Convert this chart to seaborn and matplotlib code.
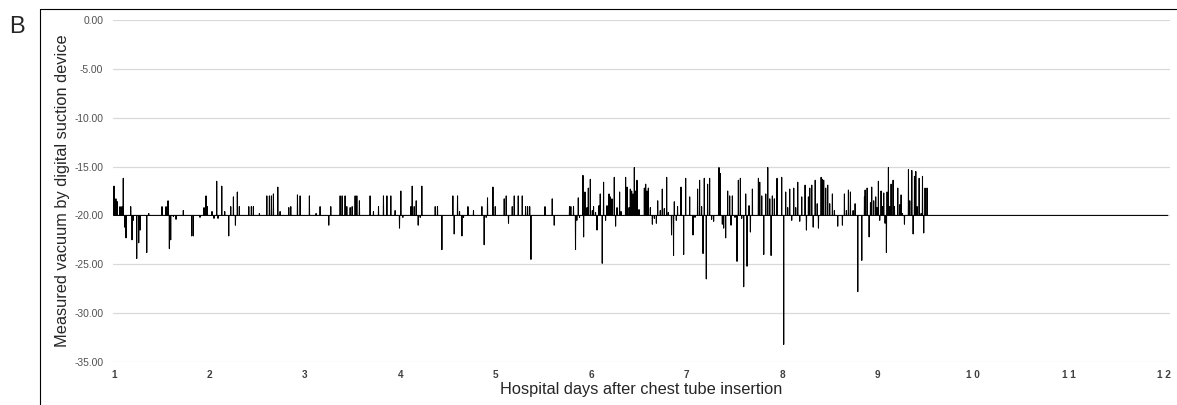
import matplotlib
matplotlib.use("Agg")
import matplotlib.pyplot as plt
import seaborn as sns
import pandas as pd
from matplotlib.lines import Line2D

# set pressure of the suction device
baseline = -20.0

# readings that differ from the set pressure (day, measured vacuum)
reading_day = [
    1.000, 1.020, 1.035, 1.063, 1.084, 1.097, 1.112, 1.126, 1.175, 1.189,
    1.202, 1.238, 1.259, 1.273, 1.343, 1.364, 1.503, 1.545, 1.566, 1.580,
    1.594, 1.622, 1.650, 1.726, 1.814, 1.831, 1.901, 1.943, 1.964, 1.978,
    2.027, 2.048, 2.076, 2.090, 2.129, 2.160, 2.202, 2.223, 2.251, 2.272,
    2.292, 2.313, 2.412, 2.439, 2.460, 2.523, 2.601, 2.628, 2.649, 2.670,
    2.716, 2.740, 2.831, 2.852, 2.922, 2.950, 3.047, 3.117, 3.159, 3.250,
    3.271, 3.369, 3.390, 3.421, 3.439, 3.474, 3.495, 3.526, 3.544, 3.571,
    3.683, 3.718, 3.771, 3.823, 3.859, 3.900, 3.945, 3.991, 4.005, 4.026,
    4.110, 4.124, 4.145, 4.166, 4.187, 4.208, 4.225, 4.365, 4.389, 4.435,
    4.550, 4.564, 4.599, 4.620, 4.645, 4.662, 4.708, 4.766, 4.854, 4.878,
    4.899, 4.913, 4.970, 4.994, 5.088, 5.109, 5.133, 5.172, 5.193, 5.235,
    5.277, 5.312, 5.333, 5.355, 5.368, 5.515, 5.591, 5.612, 5.772, 5.786,
    5.814, 5.835, 5.849, 5.864, 5.877, 5.913, 5.920, 5.934, 5.955, 5.969,
    5.990, 6.011, 6.024, 6.045, 6.060, 6.081, 6.094, 6.115, 6.129, 6.150,
    6.165, 6.186, 6.199, 6.217, 6.241, 6.255, 6.270, 6.297, 6.312, 6.360,
    6.375, 6.396, 6.409, 6.423, 6.437, 6.451, 6.465, 6.479, 6.500, 6.556,
    6.570, 6.584, 6.598, 6.619, 6.640, 6.661, 6.682, 6.696, 6.723, 6.744,
    6.765, 6.790, 6.807, 6.841, 6.862, 6.870, 6.891, 6.904, 6.940, 6.968,
    6.989, 7.010, 7.031, 7.052, 7.066, 7.087, 7.114, 7.135, 7.156, 7.171,
    7.184, 7.205, 7.219, 7.240, 7.261, 7.282, 7.338, 7.352, 7.373, 7.387,
    7.408, 7.429, 7.450, 7.464, 7.478, 7.506, 7.527, 7.541, 7.562, 7.576,
    7.597, 7.618, 7.632, 7.653, 7.667, 7.688, 7.709, 7.751, 7.765, 7.786,
    7.807, 7.828, 7.849, 7.870, 7.884, 7.897, 7.918, 7.946, 7.967, 7.995,
    8.016, 8.037, 8.058, 8.079, 8.100, 8.121, 8.142, 8.163, 8.184, 8.205,
    8.240, 8.254, 8.275, 8.289, 8.310, 8.325, 8.346, 8.367, 8.380, 8.408,
    8.421, 8.435, 8.456, 8.477, 8.498, 8.526, 8.547, 8.582, 8.596, 8.631,
    8.652, 8.673, 8.694, 8.715, 8.743, 8.764, 8.792, 8.813, 8.834, 8.862,
    8.869, 8.890, 8.911, 8.925, 8.938, 8.959, 8.980, 8.994, 9.008, 9.022,
    9.036, 9.050, 9.064, 9.078, 9.092, 9.099, 9.113, 9.127, 9.141, 9.162,
    9.176, 9.211, 9.232, 9.246, 9.260, 9.281, 9.323, 9.337, 9.358, 9.372,
    9.386, 9.400, 9.414, 9.435, 9.456, 9.470, 9.483, 9.497, 9.518,
]
reading_val = [
    -17.0, -18.3, -18.6, -19.1, -19.1, -16.2, -21.2, -22.3, -19.1, -22.5,
    -20.5, -24.4, -22.8, -21.5, -23.8, -19.8, -19.1, -19.1, -18.5, -23.4,
    -22.5, -20.1, -20.4, -19.5, -22.1, -22.1, -20.2, -19.2, -18.0, -19.1,
    -19.6, -20.3, -16.5, -20.3, -17.0, -19.6, -22.1, -19.1, -18.1, -21.0,
    -17.6, -19.1, -19.1, -19.1, -19.1, -19.8, -18.0, -18.0, -18.0, -17.8,
    -17.1, -19.6, -19.2, -19.1, -17.9, -18.0, -18.0, -19.8, -19.1, -21.0,
    -19.1, -18.0, -18.0, -18.0, -19.1, -19.2, -19.1, -18.0, -18.0, -18.5,
    -18.0, -19.6, -19.1, -18.0, -18.0, -18.0, -19.5, -21.3, -17.5, -20.2,
    -19.1, -17.0, -19.1, -18.5, -21.0, -20.2, -17.0, -19.1, -19.1, -23.5,
    -18.0, -21.9, -18.0, -19.6, -22.1, -20.2, -19.1, -19.5, -19.1, -23.0,
    -20.2, -18.2, -17.1, -19.1, -18.3, -18.0, -20.8, -19.1, -18.0, -18.0,
    -18.0, -19.1, -19.1, -19.1, -24.5, -19.1, -18.3, -21.0, -19.1, -19.1,
    -19.1, -23.5, -20.5, -18.2, -20.2, -15.9, -22.2, -17.6, -19.2, -17.2,
    -16.3, -19.5, -19.1, -19.7, -21.5, -19.0, -17.8, -24.9, -16.6, -20.5,
    -19.0, -17.8, -18.1, -18.3, -16.1, -21.1, -19.2, -17.6, -19.6, -16.1,
    -17.1, -19.2, -17.3, -17.5, -17.8, -15.1, -17.5, -16.4, -19.4, -17.2,
    -16.8, -17.5, -17.2, -19.2, -20.9, -20.3, -20.8, -18.5, -19.5, -17.3,
    -19.3, -16.1, -19.7, -22.0, -24.1, -18.6, -20.5, -19.1, -17.1, -24.0,
    -16.2, -20.0, -18.1, -20.0, -22.0, -20.2, -17.3, -16.4, -19.1, -23.9,
    -16.2, -26.5, -16.8, -16.2, -20.4, -20.6, -15.1, -15.7, -20.9, -21.3,
    -22.3, -17.5, -18.0, -21.0, -18.0, -20.2, -24.7, -16.4, -16.2, -20.3,
    -27.3, -17.8, -25.2, -19.0, -21.7, -17.3, -20.0, -16.2, -16.6, -18.0,
    -24.0, -17.8, -15.1, -18.3, -24.1, -18.0, -18.3, -16.2, -20.0, -16.1,
    -33.2, -17.6, -19.2, -17.3, -20.5, -17.2, -19.2, -16.6, -20.6, -18.1,
    -16.9, -21.5, -18.1, -17.2, -16.9, -21.2, -16.4, -18.8, -21.3, -16.1,
    -16.3, -16.4, -17.2, -16.9, -18.8, -17.8, -19.5, -21.1, -20.0, -21.0,
    -17.8, -19.5, -17.4, -17.6, -19.5, -18.8, -27.8, -20.0, -24.6, -18.1,
    -17.4, -17.2, -22.2, -18.7, -17.1, -18.5, -18.1, -19.2, -16.5, -20.5,
    -17.5, -19.1, -17.7, -20.8, -23.8, -17.6, -15.1, -19.1, -16.8, -16.4,
    -19.1, -17.2, -18.9, -17.9, -19.8, -20.9, -15.3, -18.5, -15.4, -21.9,
    -16.0, -15.5, -19.1, -16.2, -19.8, -16.0, -21.8, -17.2, -17.2,
]

day_start = 1.0
day_end = 12.04
x_ticks = [1, 2, 3, 4, 5, 6, 7, 8, 9, 10, 11, 12]
x_tick_labels = ["1", "2", "3", "4", "5", "6", "7", "8", "9", "1 0", "1 1", "1 2"]
y_ticks = [0, -5, -10, -15, -20, -25, -30, -35]

# each reading is a short excursion from the set pressure
half_width = 0.002
days, vals = [day_start], [baseline]
for d, v in zip(reading_day, reading_val):
    days += [d - half_width, d, d + half_width]
    vals += [baseline, v, baseline]
days.append(day_end)
vals.append(baseline)
df = pd.DataFrame({"day": days, "vacuum": vals})

sns.set_style("white")
plt.rcParams["font.family"] = ["Liberation Sans", "DejaVu Sans"]

fig = plt.figure(figsize=(11.77, 4.05), dpi=100)
ax = fig.add_axes([113 / 1177, 1 - 362 / 405, 1057 / 1177, 342 / 405])

sns.lineplot(data=df, x="day", y="vacuum", sort=False, estimator=None,
             color="black", linewidth=0.75, ax=ax)

ax.set_xlim(0.9895, 12.063)
ax.set_ylim(-35, 0)
ax.set_yticks(y_ticks)
ax.set_yticklabels([f"{v:.2f}" for v in y_ticks], fontsize=7.4, color="#505050")
ax.set_xticks(x_ticks)
ax.set_xticklabels(x_tick_labels, fontsize=7.2, fontweight="bold", color="#404040")
ax.tick_params(axis="both", length=0)
ax.tick_params(axis="y", pad=7)
ax.tick_params(axis="x", pad=6)
ax.yaxis.grid(True, color="#d9d9d9", linewidth=0.9)
ax.xaxis.grid(False)
ax.set_axisbelow(True)
for s in ax.spines.values():
    s.set_visible(False)

ax.set_xlabel("Hospital days after chest tube insertion", fontsize=11.8, labelpad=1)
ax.set_ylabel("Measured vacuum by digital suction device", fontsize=11.8, labelpad=3)

# panel frame and letter
fig.add_artist(Line2D([40 / 1177, 40 / 1177], [0, 1 - 9 / 405], color="black", linewidth=0.8))
fig.add_artist(Line2D([40 / 1177, 1], [1 - 9 / 405, 1 - 9 / 405], color="black", linewidth=0.8))
fig.text(9 / 1177, 1 - 33 / 405, "B", fontsize=17)

fig.savefig("out.png", dpi=100)
